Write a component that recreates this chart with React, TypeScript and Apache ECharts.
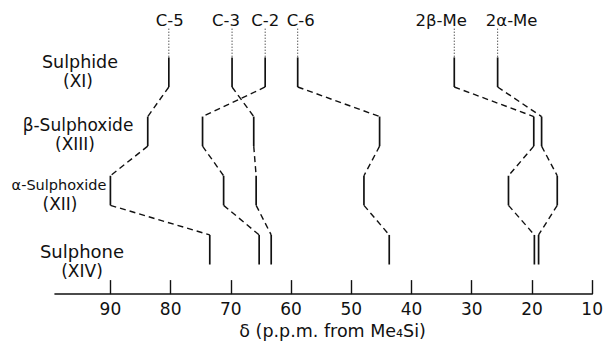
import React, { useEffect, useRef } from "react";
import * as echarts from "echarts";

// Row (compound) labels
const rowNames = ["Sulphide", "β-Sulphoxide", "α-Sulphoxide", "Sulphone"];
const rowCodes = ["(XI)", "(XIII)", "(XII)", "(XIV)"];

// Carbon labels
const carbons = ["C-5", "C-3", "C-2", "C-6", "2β-Me", "2α-Me"];

// Chemical shifts (ppm) per carbon, in row order: Sulphide, β-Sulphoxide, α-Sulphoxide, Sulphone
const shiftC5 = [80.3, 83.8, 90.0, 73.5];
const shiftC3 = [69.8, 66.2, 65.8, 63.3];
const shiftC2 = [64.3, 74.7, 71.2, 65.3];
const shiftC6 = [58.9, 45.3, 47.9, 43.7];
const shift2bMe = [32.9, 19.7, 23.9, 19.6];
const shift2aMe = [25.7, 18.4, 15.8, 18.9];

const tickValues = [90, 80, 70, 60, 50, 40, 30, 20, 10];
const axisTitle = "δ (p.p.m. from Me₄Si)";

// styling / layout constants
const FONT = "DejaVu Sans";
const HALF = 0.25; // half height of a vertical segment (row units)
const LABEL_Y = -0.87;
const DOT_TOP = -0.735;
const labelOffsetPx = [1, -6, 0, 3, -13, 14];
const rowLabelPos = [
  [80, 62, 78, 81],
  [78, 125, 75, 144],
  [59, 185, 60, 204],
  [82, 251, 82, 271],
];
const rowFont = [17.5, 17, 14.5, 18];

const allShifts = [shiftC5, shiftC3, shiftC2, shiftC6, shift2bMe, shift2aMe];

export default function App() {
  const ref = useRef<HTMLDivElement>(null);
  useEffect(() => {
    if (!ref.current) return;
    const chart = echarts.init(ref.current, undefined, { renderer: "svg" });

    const segData: number[][] = [];
    allShifts.forEach((arr, c) => {
      arr.forEach((v, r) => {
        segData.push([v, r, r < arr.length - 1 ? arr[r + 1] : v, c]);
      });
    });
    const labelData = allShifts.map((arr, c) => [arr[0], LABEL_Y, c]);

    const graphic: any[] = [];
    rowNames.forEach((name, i) => {
      const p = rowLabelPos[i];
      graphic.push({
        type: "text",
        x: p[0],
        y: p[1],
        style: {
          text: name,
          fill: "#111",
          fontFamily: FONT,
          fontSize: rowFont[i],
          align: "center",
          verticalAlign: "middle",
          textAlign: "center",
          textVerticalAlign: "middle",
        },
      });
      graphic.push({
        type: "text",
        x: p[2],
        y: p[3],
        style: {
          text: rowCodes[i],
          fill: "#111",
          fontFamily: FONT,
          fontSize: 17,
          align: "center",
          verticalAlign: "middle",
          textAlign: "center",
          textVerticalAlign: "middle",
        },
      });
    });

    chart.setOption({
      animation: false,
      backgroundColor: "#fff",
      grid: { left: 55, right: 10, top: 0, bottom: 48 },
      xAxis: {
        type: "value",
        min: 10,
        max: 99.2,
        inverse: true,
        interval: 10,
        splitLine: { show: false },
        axisLine: { show: true, onZero: false, lineStyle: { color: "#111", width: 1.6 } },
        axisTick: {
          show: true,
          inside: true,
          length: 14,
          customValues: tickValues,
          lineStyle: { color: "#111", width: 1.4 },
        },
        axisLabel: {
          show: true,
          customValues: tickValues,
          margin: 6,
          color: "#111",
          fontFamily: FONT,
          fontSize: 17,
        },
        name: axisTitle,
        nameLocation: "middle",
        nameGap: 26,
        nameTextStyle: {
          color: "#111",
          fontFamily: FONT,
          fontSize: 17.5,
          padding: [0, 0, 0, 18],
        },
      },
      yAxis: {
        type: "value",
        min: -1.22,
        max: 3.75,
        inverse: true,
        show: false,
      },
      graphic,
      series: [
        {
          type: "custom",
          coordinateSystem: "cartesian2d",
          clip: false,
          encode: { x: 0, y: 1 },
          data: segData,
          renderItem: (params: any, api: any) => {
            const x = api.value(0);
            const r = api.value(1);
            const xn = api.value(2);
            const top = api.coord([x, r - HALF]);
            const bot = api.coord([x, r + HALF]);
            const children: any[] = [
              {
                type: "line",
                shape: { x1: top[0], y1: top[1], x2: bot[0], y2: bot[1] },
                style: { stroke: "#111", lineWidth: 1.7 },
              },
            ];
            if (r < rowNames.length - 1) {
              const nt = api.coord([xn, r + 1 - HALF]);
              children.push({
                type: "line",
                shape: { x1: bot[0], y1: bot[1], x2: nt[0], y2: nt[1] },
                style: { stroke: "#111", lineWidth: 1.4, lineDash: [6, 4] },
              });
            }
            return { type: "group", children };
          },
        },
        {
          type: "custom",
          coordinateSystem: "cartesian2d",
          clip: false,
          encode: { x: 0, y: 1 },
          data: labelData,
          renderItem: (params: any, api: any) => {
            const x = api.value(0);
            const c = api.value(2);
            const lp = api.coord([x, api.value(1)]);
            const d1 = api.coord([x, DOT_TOP]);
            const d2 = api.coord([x, -HALF]);
            return {
              type: "group",
              children: [
                {
                  type: "text",
                  x: lp[0] + labelOffsetPx[c],
                  y: lp[1],
                  style: {
                    text: carbons[c],
                    fill: "#111",
                    fontFamily: FONT,
                    fontSize: 16.5,
                    align: "center",
                    verticalAlign: "middle",
                    textAlign: "center",
                    textVerticalAlign: "middle",
                  },
                },
                {
                  type: "line",
                  shape: { x1: d1[0], y1: d1[1], x2: d2[0], y2: d2[1] },
                  style: { stroke: "#111", lineWidth: 1, lineDash: [1, 2] },
                },
              ],
            };
          },
        },
      ],
    });
    return () => chart.dispose();
  }, []);
  return (
    <div
      ref={ref}
      style={{ position: "fixed", left: 0, top: 0, width: 606, height: 345, background: "#fff" }}
    />
  );
}
